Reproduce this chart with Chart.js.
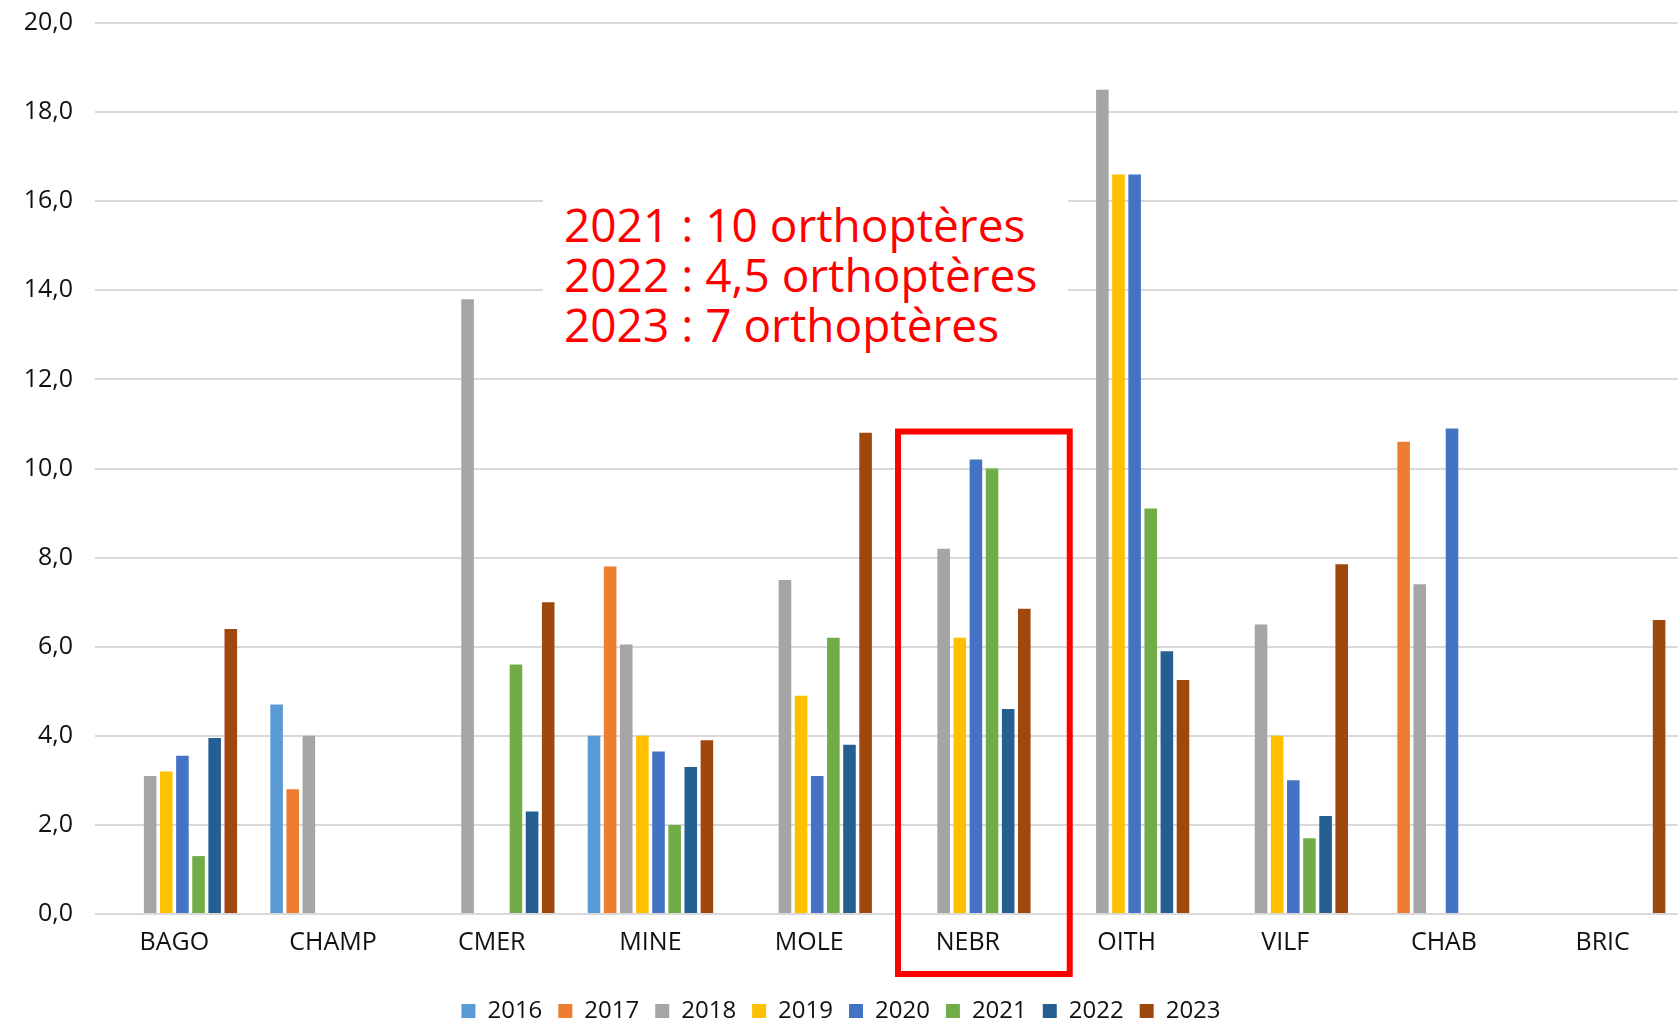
<!DOCTYPE html>
<html>
<head>
<meta charset="utf-8">
<script src="https://cdn.jsdelivr.net/npm/chart.js@4.4.1/dist/chart.umd.min.js"></script>
<style>
  html, body { margin: 0; padding: 0; background: #fff; overflow: hidden; }
  #wrap { position: relative; width: 1678px; height: 1024px; overflow: hidden; }
  #myChart { position: absolute; left: 0; top: -14px; }
  #note {
    position: absolute; left: 543px; top: 190px; width: 525px; height: 170px;
    box-sizing: border-box; padding: 9px 0 0 21px; background: #fff;
    font-family: 'Open Sans', sans-serif; font-size: 46px; line-height: 50px;
    color: #ff0000; white-space: nowrap;
  }
</style>
</head>
<body>
<div id="wrap">
  <canvas id="myChart" width="1682" height="1038"></canvas>
  <div id="note"></div>
</div>
<script>
const categories = ['BAGO', 'CHAMP', 'CMER', 'MINE', 'MOLE', 'NEBR', 'OITH', 'VILF', 'CHAB', 'BRIC'];
const years = ['2016', '2017', '2018', '2019', '2020', '2021', '2022', '2023'];

const values2016 = [null, 4.7, null, 4.0, null, null, null, null, null, null];
const values2017 = [null, 2.8, null, 7.8, null, null, null, null, 10.6, null];
const values2018 = [3.1, 4.0, 13.8, 6.05, 7.5, 8.2, 18.5, 6.5, 7.4, null];
const values2019 = [3.2, null, null, 4.0, 4.9, 6.2, 16.6, 4.0, null, null];
const values2020 = [3.55, null, null, 3.65, 3.1, 10.2, 16.6, 3.0, 10.9, null];
const values2021 = [1.3, null, 5.6, 2.0, 6.2, 10.0, 9.1, 1.7, null, null];
const values2022 = [3.95, null, 2.3, 3.3, 3.8, 4.6, 5.9, 2.2, null, null];
const values2023 = [6.4, null, 7.0, 3.9, 10.8, 6.85, 5.25, 7.85, null, 6.6];

const yTickLabels = ['0,0', '2,0', '4,0', '6,0', '8,0', '10,0', '12,0', '14,0', '16,0', '18,0', '20,0'];

const noteLines = ['2021 : 10 orthoptères', '2022 : 4,5 orthoptères', '2023 : 7 orthoptères'];

const colors = ['#5B9BD5', '#ED7D31', '#A5A5A5', '#FFC000', '#4472C4', '#70AD47', '#255E91', '#9E480E'];
const series = [values2016, values2017, values2018, values2019, values2020, values2021, values2022, values2023];

document.getElementById('note').innerHTML = noteLines.join('<br>');

Chart.defaults.font.family = "'Open Sans', sans-serif";
Chart.defaults.color = '#111';

// red frame round the NEBR group
const highlightBox = {
  id: 'highlightBox',
  afterDraw(chart) {
    const xs = chart.scales.x, ys = chart.scales.y;
    const step = xs.getPixelForValue(1) - xs.getPixelForValue(0);
    const c = xs.getPixelForValue(categories.indexOf('NEBR'));
    const left = c - 0.44 * step;
    const right = c + 0.642 * step;
    const top = ys.getPixelForValue(10.83);
    const bottom = ys.getPixelForValue(0) + 60;
    const ctx = chart.ctx;
    ctx.save();
    ctx.strokeStyle = '#ff0000';
    ctx.lineWidth = 6;
    ctx.lineJoin = 'miter';
    ctx.strokeRect(left, top, right - left, bottom - top);
    ctx.restore();
  }
};

const data = {
  labels: categories,
  datasets: years.map((y, i) => ({
    label: y,
    data: series[i],
    backgroundColor: colors[i],
    categoryPercentage: 0.813,
    barPercentage: 0.78
  }))
};

const config = {
  type: 'bar',
  data: data,
  options: {
    responsive: false,
    animation: false,
    layout: { padding: { top: 3, right: 0, bottom: -9, left: 0 } },
    plugins: {
      legend: {
        position: 'bottom',
        labels: {
          boxWidth: 14,
          boxHeight: 14,
          padding: 16,
          font: { size: 24 },
          color: '#111'
        }
      },
      tooltip: { enabled: false }
    },
    scales: {
      x: {
        grid: { display: false, drawTicks: false },
        border: { display: false },
        ticks: { font: { size: 25 }, padding: 14, color: '#111' },
        afterFit(scale) { scale.height = 69; }
      },
      y: {
        min: 0,
        max: 20,
        grid: { color: '#d9d9d9', lineWidth: 2, drawTicks: false },
        border: { display: false },
        ticks: {
          stepSize: 2,
          padding: 22,
          font: { size: 25 },
          color: '#111',
          callback: (v, i) => yTickLabels[i]
        },
        afterFit(scale) { scale.width = 95; }
      }
    }
  },
  plugins: [highlightBox]
};

const myChart = new Chart(document.getElementById('myChart'), config);
</script>
</body>
</html>
